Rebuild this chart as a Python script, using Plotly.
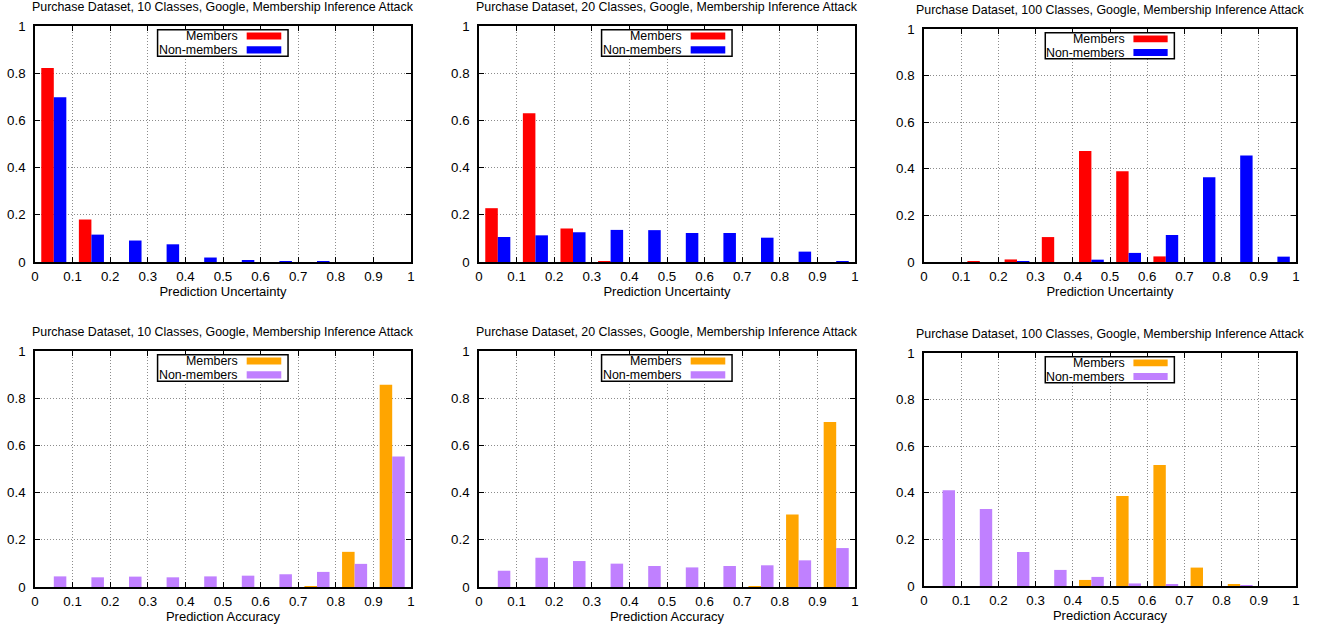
import plotly.graph_objects as go

# ---------------- data ----------------
bins = [0.05, 0.15, 0.25, 0.35, 0.45, 0.55, 0.65, 0.75, 0.85, 0.95]
x_ticks = [0, 0.1, 0.2, 0.3, 0.4, 0.5, 0.6, 0.7, 0.8, 0.9, 1]
y_ticks = [0, 0.2, 0.4, 0.6, 0.8, 1]

titles = [
    "Purchase Dataset, 10 Classes, Google, Membership Inference Attack",
    "Purchase Dataset, 20 Classes, Google, Membership Inference Attack",
    "Purchase Dataset, 100 Classes, Google, Membership Inference Attack",
    "Purchase Dataset, 10 Classes, Google, Membership Inference Attack",
    "Purchase Dataset, 20 Classes, Google, Membership Inference Attack",
    "Purchase Dataset, 100 Classes, Google, Membership Inference Attack",
]
x_titles = ["Prediction Uncertainty"] * 3 + ["Prediction Accuracy"] * 3

# Prediction uncertainty histograms
unc10_members = [0.822, 0.180, 0, 0, 0, 0, 0, 0, 0, 0]
unc10_nonmembers = [0.698, 0.116, 0.091, 0.075, 0.019, 0.006, 0.002, 0.002, 0, 0]
unc20_members = [0.228, 0.630, 0.142, 0.002, 0, 0, 0, 0, 0, 0]
unc20_nonmembers = [0.106, 0.113, 0.126, 0.136, 0.135, 0.123, 0.123, 0.103, 0.044, 0.002]
unc100_members = [0, 0.002, 0.011, 0.107, 0.476, 0.390, 0.024, 0, 0, 0]
unc100_nonmembers = [0, 0, 0.003, 0, 0.010, 0.039, 0.116, 0.364, 0.457, 0.023]

# Prediction accuracy histograms
acc10_members = [0, 0, 0, 0, 0, 0, 0, 0.002, 0.149, 0.857]
acc10_nonmembers = [0.045, 0.041, 0.044, 0.041, 0.045, 0.048, 0.054, 0.064, 0.098, 0.553]
acc20_members = [0, 0, 0, 0, 0, 0, 0, 0.002, 0.307, 0.699]
acc20_nonmembers = [0.069, 0.124, 0.110, 0.099, 0.089, 0.083, 0.089, 0.092, 0.113, 0.165]
acc100_members = [0, 0, 0, 0, 0.026, 0.386, 0.519, 0.079, 0.007, 0]
acc100_nonmembers = [0.411, 0.330, 0.146, 0.069, 0.039, 0.011, 0.007, 0, 0.003, 0]

series_members = [unc10_members, unc20_members, unc100_members,
                  acc10_members, acc20_members, acc100_members]
series_nonmembers = [unc10_nonmembers, unc20_nonmembers, unc100_nonmembers,
                     acc10_nonmembers, acc20_nonmembers, acc100_nonmembers]
legend_names = ["Members", "Non-members"]

# ---------------- styles ----------------
W, H = 1317, 627
FONT = "Liberation Sans, Arial, Helvetica, sans-serif"
colors_top = ["#FF0000", "#0000FF"]
colors_bottom = ["#FFA500", "#C080FF"]

# plot areas in pixels: (left, right, top, bottom)
areas = [
    (35, 411, 26, 262),
    (479, 855, 26, 262),
    (924, 1296, 29, 262),
    (35, 411, 351, 587),
    (479, 855, 351, 587),
    (924, 1296, 353, 586),
]

fig = go.Figure()
layout = dict(
    width=W, height=H, autosize=False,
    margin=dict(l=0, r=0, t=0, b=0, pad=0),
    paper_bgcolor="white", plot_bgcolor="white",
    barmode="group", bargap=1/3, bargroupgap=0,
    showlegend=False,
    font=dict(family=FONT, size=13, color="black"),
)
annotations = []
shapes = []

for i in range(6):
    n = "" if i == 0 else str(i + 1)
    xa, ya = "x" + n, "y" + n
    l, r, t, b = areas[i]
    cols = colors_top if i < 3 else colors_bottom
    for s, (vals, col) in enumerate(zip([series_members[i], series_nonmembers[i]], cols)):
        fig.add_trace(go.Bar(
            x=bins, y=vals, name=legend_names[s],
            marker=dict(color=col, line=dict(width=0)),
            xaxis=xa, yaxis=ya, offsetgroup=str(s),
        ))
    axis_common = dict(
        showline=True, linecolor="black", linewidth=1.5, mirror="ticks",
        ticks="inside", ticklen=5, tickwidth=1, tickcolor="black",
        showgrid=True, gridcolor="#8c8c8c", griddash="1px,2px", gridwidth=1,
        zeroline=False, tickfont=dict(family=FONT, size=13.3, color="black"),
        fixedrange=True, automargin=False,
    )
    layout["xaxis" + n] = dict(
        axis_common, domain=[l / W, r / W], range=[0, 1],
        tickvals=x_ticks, ticktext=[f"{v:g}" for v in x_ticks],
        anchor=ya, ticklabelstandoff=1,
        title=dict(text=x_titles[i], standoff=4, font=dict(family=FONT, size=13)),
    )
    layout["yaxis" + n] = dict(
        axis_common, domain=[1 - b / H, 1 - t / H], range=[0, 1],
        tickvals=y_ticks, ticktext=[f"{v:g}" for v in y_ticks],
        anchor=xa, ticklabelstandoff=5,
    )
    xd, yd = xa + " domain", ya + " domain"
    # title
    annotations.append(dict(
        text=titles[i], xref=xd, yref=yd, x=0.5, y=1, xanchor="center",
        yanchor="middle", yshift=19, showarrow=False,
        font=dict(family=FONT, size=12.4, color="black"),
    ))
    # custom legend (text right-aligned, swatch on the right)
    shapes.append(dict(
        type="rect", xref=xd, yref=yd, x0=0.326, x1=0.673, y0=0.872, y1=0.984,
        line=dict(color="black", width=1.5), fillcolor="white", layer="above",
    ))
    for k, (ty, sy0, sy1) in enumerate([(0.959, 0.943, 0.972), (0.898, 0.884, 0.914)]):
        annotations.append(dict(
            text=legend_names[k], xref=xd, yref=yd, x=0.545, y=ty,
            xanchor="right", yanchor="middle", showarrow=False,
            font=dict(family=FONT, size=12.4, color="black"),
        ))
        shapes.append(dict(
            type="rect", xref=xd, yref=yd, x0=0.563, x1=0.655, y0=sy0, y1=sy1,
            line=dict(width=0), fillcolor=cols[k], layer="above",
        ))

layout["annotations"] = annotations
layout["shapes"] = shapes
fig.update_layout(**layout)
fig.write_html(
    "out.html",
    config={"displayModeBar": False},
    post_script="document.body.style.margin='0';document.body.style.padding='0';",
)
